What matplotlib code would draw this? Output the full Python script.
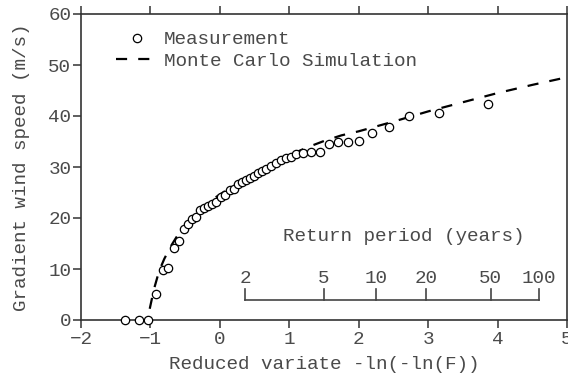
import numpy as np
import matplotlib
matplotlib.use("Agg")
import matplotlib.pyplot as plt

# measured gradient wind speeds vs reduced variate
meas_x = [-1.37, -1.16, -1.03, -0.92, -0.82, -0.74, -0.66, -0.59, -0.52, -0.46,
          -0.40, -0.34, -0.29, -0.23, -0.17, -0.11, -0.06, 0.02, 0.07, 0.15,
          0.20, 0.26, 0.32, 0.38, 0.43, 0.49, 0.55, 0.61, 0.66, 0.74,
          0.81, 0.88, 0.95, 1.02, 1.10, 1.20, 1.31, 1.44, 1.57, 1.70,
          1.85, 2.00, 2.19, 2.44, 2.72, 3.16, 3.86]
meas_y = [0.0, 0.0, 0.0, 5.1, 9.8, 10.2, 14.1, 15.5, 17.8, 18.8,
          19.8, 20.2, 21.6, 22.0, 22.4, 22.7, 23.1, 24.1, 24.5, 25.5,
          25.7, 26.7, 27.1, 27.5, 27.8, 28.2, 28.8, 29.2, 29.6, 30.2,
          30.8, 31.4, 31.8, 32.0, 32.5, 32.7, 32.9, 32.9, 34.5, 34.9,
          34.9, 35.1, 36.7, 37.8, 40.0, 40.6, 42.4]

# Monte Carlo simulation curve
mc_x = [-1.01, -0.95, -0.90, -0.85, -0.80, -0.70, -0.60, -0.50, -0.40, -0.30,
        -0.20, -0.10, 0.0, 0.2, 0.4, 0.6, 0.8, 1.0, 1.25, 1.5,
        1.75, 2.0, 2.5, 3.0, 3.5, 4.0, 4.5, 5.0]
mc_y = [2.2, 6.0, 8.4, 10.4, 12.0, 14.6, 16.8, 18.6, 20.1, 21.4,
        22.6, 23.7, 24.6, 26.4, 28.0, 29.6, 31.0, 32.3, 33.8, 35.1,
        36.2, 37.0, 38.9, 40.9, 42.7, 44.5, 46.1, 47.6]

# return periods for the secondary scale
periods = [2, 5, 10, 20, 50, 100]

plt.rcParams['font.family'] = ['Liberation Mono', 'DejaVu Sans']
txt_color = '#4a4a4a'
fs = 13.9

fig = plt.figure(figsize=(5.68, 3.82), dpi=100)
ax = fig.add_axes([81 / 568, 1 - 320 / 382, 486 / 568, 306 / 382])

ax.plot(mc_x, mc_y, color='black', lw=1.6, dashes=(5, 5),
        label='Monte Carlo Simulation', zorder=2)
ax.plot(meas_x, meas_y, 'o', mfc='white', mec='black', ms=6, mew=0.9,
        label='Measurement', zorder=3, clip_on=False)

ax.set_xlim(-2, 5)
ax.set_ylim(0, 60)
ax.set_xticks(range(-2, 6))
ax.set_yticks(range(0, 70, 10))
ax.set_xticklabels(['\u22122', '\u22121', '0', '1', '2', '3', '4', '5'])

for s in ax.spines.values():
    s.set_color('#333333')
    s.set_linewidth(1.2)

ax.tick_params(axis='x', which='both', direction='out', length=6, width=1.1,
               color='#333333', labelcolor=txt_color, labelsize=fs, pad=2,
               top=True, labeltop=False)
ax.tick_params(axis='y', direction='out', length=6, width=1.1,
               color='#333333', labelcolor=txt_color, labelsize=fs, pad=1,
               right=False)

ax.set_xlabel('Reduced variate -ln(-ln(F))', fontsize=fs, color=txt_color, labelpad=6)
ax.set_ylabel('Gradient wind speed (m/s)', fontsize=fs, color=txt_color, labelpad=13)

# return period scale
rp_x = [-np.log(-np.log(1 - 1 / T)) for T in periods]
ax.plot([rp_x[0], rp_x[-1]], [3.9, 3.9], color='#444444', lw=1.2)
for xv, T in zip(rp_x, periods):
    ax.plot([xv, xv], [3.9, 6.0], color='#444444', lw=1.2)
    ax.text(xv, 6.4, str(T), ha='center', va='bottom', fontsize=fs, color=txt_color)
ax.text(2.65, 16.3, 'Return period (years)', ha='center', va='center',
        fontsize=fs, color=txt_color)

h, l = ax.get_legend_handles_labels()
leg = ax.legend(h[::-1], l[::-1], loc='upper left', bbox_to_anchor=(0.073, 0.945),
                frameon=False, fontsize=fs, handlelength=2.1, handletextpad=0.35,
                labelspacing=0.22, borderpad=0, borderaxespad=0)
for t in leg.get_texts():
    t.set_color(txt_color)

fig.savefig('out.png', dpi=100)
